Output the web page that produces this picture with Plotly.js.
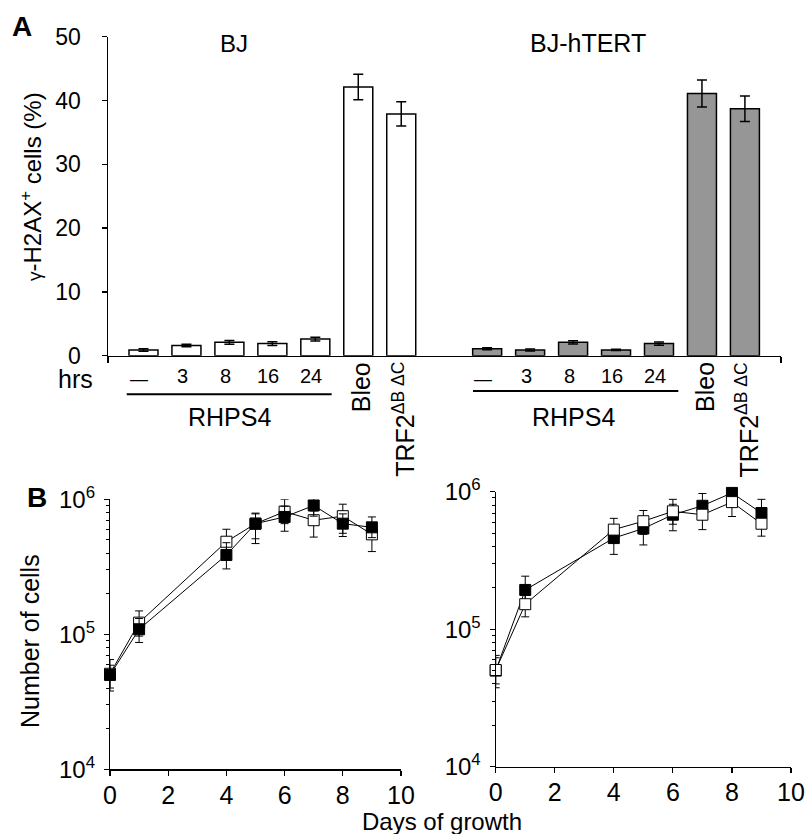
<!DOCTYPE html>
<html>
<head>
<meta charset="utf-8">
<script src="https://cdn.plot.ly/plotly-3.0.1.min.js"></script>
<style>html,body{margin:0;padding:0;background:#fff;}#chart{width:807px;height:834px;}</style>
</head>
<body>
<div id="chart"></div>
<script>
// ---------- Panel A data ----------
const categories = ["—", "3", "8", "16", "24", "Bleo", "TRF2<sup>ΔB ΔC</sup>"];
const bjValues    = [0.9, 1.6, 2.1, 1.9, 2.6, 42.1, 37.9];
const bjErrors    = [0.2, 0.2, 0.3, 0.3, 0.3, 2.0, 1.9];
const htertValues = [1.1, 0.9, 2.1, 0.9, 1.9, 41.1, 38.7];
const htertErrors = [0.15, 0.15, 0.25, 0.1, 0.25, 2.1, 2.0];
const yTicksA = [0, 10, 20, 30, 40, 50];

// ---------- Panel B data ----------
const days = [0, 1, 4, 5, 6, 7, 8, 9];
const bjOpen          = [51000, 122000, 485000, 660000, 810000, 700000, 750000, 550000];
const bjOpenErrPlus   = [14000, 27000, 115000, 130000, 190000, 120000, 170000, 100000];
const bjOpenErrMinus  = [13000, 25000, 100000, 190000, 150000, 175000, 190000, 140000];
const bjFilled         = [50000, 109000, 387000, 660000, 740000, 900000, 660000, 620000];
const bjFilledErrPlus  = [9000, 22000, 90000, 120000, 150000, 170000, 120000, 120000];
const bjFilledErrMinus = [10000, 22000, 82000, 150000, 160000, 150000, 130000, 100000];

const htOpen          = [50500, 152000, 530000, 610000, 720000, 680000, 840000, 585000];
const htOpenErrPlus   = [14000, 30000, 110000, 120000, 160000, 100000, 80000, 100000];
const htOpenErrMinus  = [13000, 29000, 100000, 120000, 140000, 150000, 180000, 110000];
const htFilled         = [50000, 193000, 460000, 540000, 680000, 790000, 980000, 700000];
const htFilledErrPlus  = [12000, 50000, 90000, 100000, 130000, 180000, 80000, 180000];
const htFilledErrMinus = [10000, 35000, 110000, 130000, 160000, 120000, 100000, 100000];

const logTickVals = [1e4, 1e5, 1e6];
const logTickText = ["10<sup>4</sup>", "10<sup>5</sup>", "10<sup>6</sup>"];
const xTicksB = [0, 2, 4, 6, 8, 10];

// ---------- helpers ----------
const W = 807, H = 834;
const px = v => v / W;
const py = v => 1 - v / H;
const FONT = "Liberation Sans, Arial, Helvetica, sans-serif";
const GAP = 8; // position offset of the second group of bars
const bjPos = categories.map((c, i) => i);
const htPos = categories.map((c, i) => i + GAP);
const minorLog = [2,3,4,5,6,7,8,9].flatMap(m => [m * 1e4, m * 1e5]);

const barCommon = {
  type: 'bar', width: 0.675, xaxis: 'x', yaxis: 'y', hoverinfo: 'none',
};
const traces = [
  Object.assign({}, barCommon, {
    x: bjPos, y: bjValues,
    marker: {color: '#ffffff', line: {color: '#000', width: 1.5}},
    error_y: {type: 'data', array: bjErrors, visible: true, color: '#000', thickness: 1.5, width: 5}
  }),
  Object.assign({}, barCommon, {
    x: htPos, y: htertValues,
    marker: {color: '#969696', line: {color: '#000', width: 1.5}},
    error_y: {type: 'data', array: htertErrors, visible: true, color: '#000', thickness: 1.5, width: 5}
  })
];

function growth(y, plus, minus, filled, xa, ya) {
  return {
    type: 'scatter', mode: 'lines+markers', x: days, y: y, xaxis: xa, yaxis: ya,
    line: {color: '#000', width: 1},
    marker: {symbol: 'square', size: 11, color: filled ? '#000' : '#fff', line: {color: '#000', width: 1}},
    error_y: {type: 'data', symmetric: false, array: plus, arrayminus: minus, visible: true,
              color: '#000', thickness: 1, width: 4},
    hoverinfo: 'none', cliponaxis: false
  };
}
// left: filled drawn on top; right: open drawn on top
traces.push(growth(bjOpen, bjOpenErrPlus, bjOpenErrMinus, false, 'x2', 'y2'));
traces.push(growth(bjFilled, bjFilledErrPlus, bjFilledErrMinus, true, 'x2', 'y2'));
traces.push(growth(htFilled, htFilledErrPlus, htFilledErrMinus, true, 'x3', 'y3'));
traces.push(growth(htOpen, htOpenErrPlus, htOpenErrMinus, false, 'x3', 'y3'));

const axisBase = {
  showline: true, linecolor: '#000', linewidth: 1.5, showgrid: false, zeroline: false,
  ticks: 'outside', tickcolor: '#000', tickwidth: 1.5, ticklen: 5,
  tickfont: {family: FONT, size: 23, color: '#000'}, fixedrange: true
};

const xRangeA = [-0.826, 14.84];
const layout = {
  width: W, height: H, margin: {l: 0, r: 0, t: 0, b: 0},
  paper_bgcolor: '#fff', plot_bgcolor: 'rgba(0,0,0,0)', showlegend: false,
  barmode: 'overlay',
  font: {family: FONT, color: '#000'},
  xaxis: Object.assign({}, axisBase, {
    domain: [px(108), px(781)], range: xRangeA, anchor: 'y',
    tickmode: 'array', tickvals: [xRangeA[0] + 0.002, xRangeA[1] - 0.002], showticklabels: false, ticklen: 6
  }),
  yaxis: Object.assign({}, axisBase, {
    domain: [py(355.7), py(36.7)], range: [0, 50], anchor: 'x',
    tickmode: 'array', tickvals: yTicksA, ticklabelstandoff: 16
  }),
  xaxis2: Object.assign({}, axisBase, {
    domain: [px(110), px(401)], range: [0, 10], anchor: 'y2',
    tickmode: 'array', tickvals: xTicksB, ticklen: 5, tickwidth: 1.2, linewidth: 1.2,
    tickfont: {family: FONT, size: 25, color: '#000'}, ticklabelstandoff: -2
  }),
  yaxis2: Object.assign({}, axisBase, {
    type: 'log', domain: [py(769.3), py(499.3)], range: [4, 6], anchor: 'x2',
    tickmode: 'array', tickvals: logTickVals, ticktext: logTickText, ticklen: 5, tickwidth: 1.2, linewidth: 1.2,
    tickfont: {family: FONT, size: 24, color: '#000'}, ticklabelstandoff: 4,
    minor: {tickmode: 'array', tickvals: minorLog, ticks: 'outside', ticklen: 3, tickcolor: '#000', tickwidth: 1}
  }),
  xaxis3: Object.assign({}, axisBase, {
    domain: [px(495.7), px(791)], range: [0, 10], anchor: 'y3',
    tickmode: 'array', tickvals: xTicksB, ticklen: 5, tickwidth: 1.2, linewidth: 1.2,
    tickfont: {family: FONT, size: 25, color: '#000'}, ticklabelstandoff: -2
  }),
  yaxis3: Object.assign({}, axisBase, {
    type: 'log', domain: [py(766.7), py(491.7)], range: [4, 6], anchor: 'x3',
    tickmode: 'array', tickvals: logTickVals, ticktext: logTickText, ticklen: 5, tickwidth: 1.2, linewidth: 1.2,
    tickfont: {family: FONT, size: 24, color: '#000'}, ticklabelstandoff: 4,
    minor: {tickmode: 'array', tickvals: minorLog, ticks: 'outside', ticklen: 3, tickcolor: '#000', tickwidth: 1}
  }),
  shapes: [
    {type: 'line', xref: 'x', yref: 'paper', x0: bjPos[0] - 0.39, x1: bjPos[4] + 0.38,
     y0: py(394.3), y1: py(394.3), line: {color: '#000', width: 2}},
    {type: 'line', xref: 'x', yref: 'paper', x0: htPos[0] - 0.33, x1: htPos[4] + 0.45,
     y0: py(391), y1: py(391), line: {color: '#000', width: 2}}
  ],
  annotations: []
};

const A = layout.annotations;
function ann(o) { A.push(Object.assign({showarrow: false, xanchor: 'center', yanchor: 'middle'}, o)); }

// panel letters and titles
ann({text: '<b>A</b>', xref: 'paper', yref: 'paper', x: px(22), y: py(26), font: {size: 28}});
ann({text: '<b>B</b>', xref: 'paper', yref: 'paper', x: px(37), y: py(498), font: {size: 28}});
ann({text: 'BJ', xref: 'paper', yref: 'paper', x: px(234), y: py(43.5), font: {size: 24}});
ann({text: 'BJ-hTERT', xref: 'paper', yref: 'paper', x: px(587.5), y: py(42.6), font: {size: 25}});
ann({text: '<span style="font-size:19px">γ</span>-H2AX<sup>+</sup> cells (%)', xref: 'paper', yref: 'paper',
     x: px(31), y: py(187), textangle: -90, font: {size: 24}});
ann({text: 'Number of cells', xref: 'paper', yref: 'paper', x: px(30), y: py(641), textangle: -90, font: {size: 25}});
ann({text: 'Days of growth', xref: 'paper', yref: 'paper', x: px(442), y: py(821), font: {size: 24}});
ann({text: 'hrs', xref: 'paper', yref: 'paper', x: px(75), y: py(379), font: {size: 25}});

// category labels under the bars
[bjPos, htPos].forEach(pos => {
  for (let i = 0; i < 5; i++) {
    ann({text: categories[i], xref: 'x', yref: 'paper', x: pos[i], xshift: -4,
         y: py(i === 0 ? 379 : 375.5), font: {size: i === 0 ? 18 : 20}});
  }
  ann({text: 'RHPS4', xref: 'x', yref: 'paper', x: (pos[0] + pos[4]) / 2, y: py(417), font: {size: 25}});
  ann({text: categories[5], xref: 'x', yref: 'paper', x: pos[5], xshift: 3, y: py(360), yanchor: 'top',
       textangle: -90, font: {size: 25}});
  ann({text: categories[6], xref: 'x', yref: 'paper', x: pos[6], xshift: 2, y: py(360), yanchor: 'top',
       textangle: -90, font: {size: 25}});
});

Plotly.newPlot('chart', traces, layout, {staticPlot: true, displayModeBar: false});
</script>
</body>
</html>
